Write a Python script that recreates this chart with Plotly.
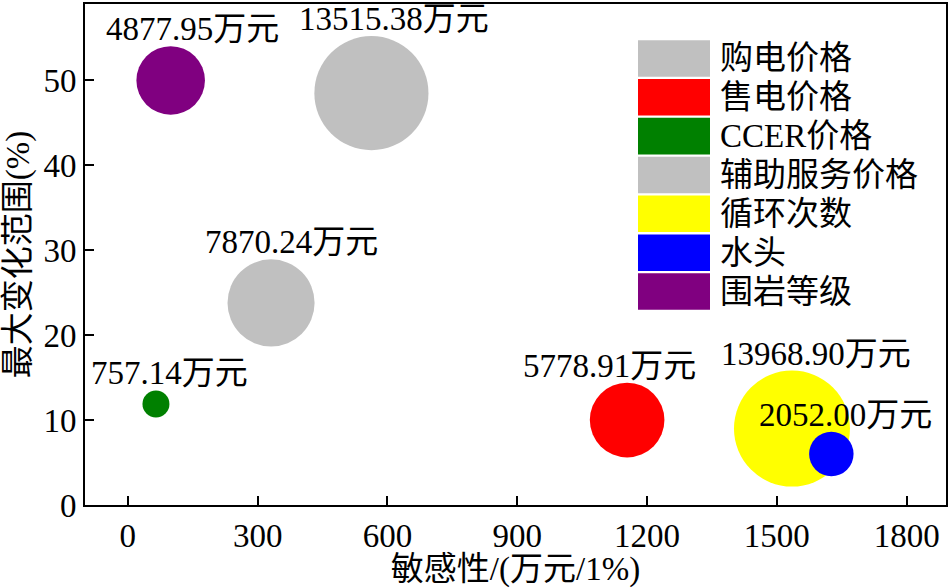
import math
import plotly.graph_objects as go

# ---- data ----
factors = ["购电价格", "售电价格", "CCER价格", "辅助服务价格", "循环次数", "水头", "围岩等级"]
sensitivity = [563, 1154, 65, 331, 1535, 1626, 99]          # x: 万元/1%
max_range = [48.5, 10.0, 11.9, 23.8, 9.0, 6.0, 50.0]        # y: %
impact = [13515.38, 5778.91, 757.14, 7870.24, 13968.90, 2052.00, 4877.95]  # 万元 (bubble area)
x_ticks = [0, 300, 600, 900, 1200, 1500, 1800]
y_ticks = [0, 10, 20, 30, 40, 50]

# ---- styles ----
colors = ["#C0C0C0", "#FF0000", "#008000", "#C0C0C0", "#FFFF00", "#0000FF", "#800080"]
label_dx = [23, -18, 14, 20, 24, 14, 22]   # horizontal label offsets (px)
FONT = "Liberation Serif, Times New Roman, Noto Sans CJK SC, serif"
FS = 33
W, H = 952, 588
ML, MR, MT, MB = 85, 6, 2, 83
MAX_D = 116.0
sizeref = 2.0 * max(impact) / MAX_D ** 2

fig = go.Figure()
for i in range(len(factors)):
    fig.add_trace(go.Scatter(
        x=[sensitivity[i]], y=[max_range[i]], mode="markers", name=factors[i],
        marker=dict(size=[impact[i]], sizemode="area", sizeref=sizeref,
                    color=colors[i], opacity=1, line=dict(width=0)),
        showlegend=False, hoverinfo="skip"))

annotations = []
for i in range(len(factors)):
    r = math.sqrt(impact[i] / 2.0 / sizeref)
    annotations.append(dict(
        x=sensitivity[i], y=max_range[i], xref="x", yref="y",
        text=f"{impact[i]:.2f}万元", showarrow=False,
        xanchor="center", yanchor="middle", xshift=label_dx[i], yshift=r + 17,
        font=dict(family=FONT, size=FS, color="black")))

# manual legend (wide colour swatches)
pw = W - ML - MR
ph = H - MT - MB
def px2paper(px, py):
    return (px - ML) / pw, (H - MB - py) / ph

shapes = []
sw_x0, sw_x1 = 638, 710
top0, sw_h, step = 38.3, 36.7, 39.0
for i in range(len(factors)):
    y0 = top0 + i * step
    a = px2paper(sw_x0, y0 + sw_h)
    b = px2paper(sw_x1, y0)
    shapes.append(dict(type="rect", xref="paper", yref="paper",
                       x0=a[0], y0=a[1], x1=b[0], y1=b[1],
                       fillcolor=colors[i], line=dict(width=0), layer="above"))
    tx, ty = px2paper(718, y0 + sw_h / 2)
    annotations.append(dict(x=tx, y=ty, xref="paper", yref="paper",
                            text=factors[i], showarrow=False,
                            xanchor="left", yanchor="middle",
                            font=dict(family=FONT, size=FS, color="black")))

axis_common = dict(showline=True, linewidth=2, linecolor="black", mirror=True,
                   ticks="inside", ticklen=9, tickwidth=2, tickcolor="black",
                   showgrid=False, zeroline=False,
                   tickfont=dict(family=FONT, size=FS, color="black"))

fig.update_layout(
    width=W, height=H,
    margin=dict(l=ML, r=MR, t=MT, b=MB),
    plot_bgcolor="white", paper_bgcolor="white",
    xaxis=dict(range=[-99, 1891], tickvals=x_ticks,
               title=dict(text="敏感性/(万元/1%)", standoff=4,
                          font=dict(family=FONT, size=FS, color="black")),
               **axis_common),
    yaxis=dict(range=[0, 59], tickvals=y_ticks,
               title=dict(text="最大变化范围(%)", standoff=6,
                          font=dict(family=FONT, size=FS, color="black")),
               **axis_common),
    shapes=shapes, annotations=annotations,
)

fig.write_html("out.html")
